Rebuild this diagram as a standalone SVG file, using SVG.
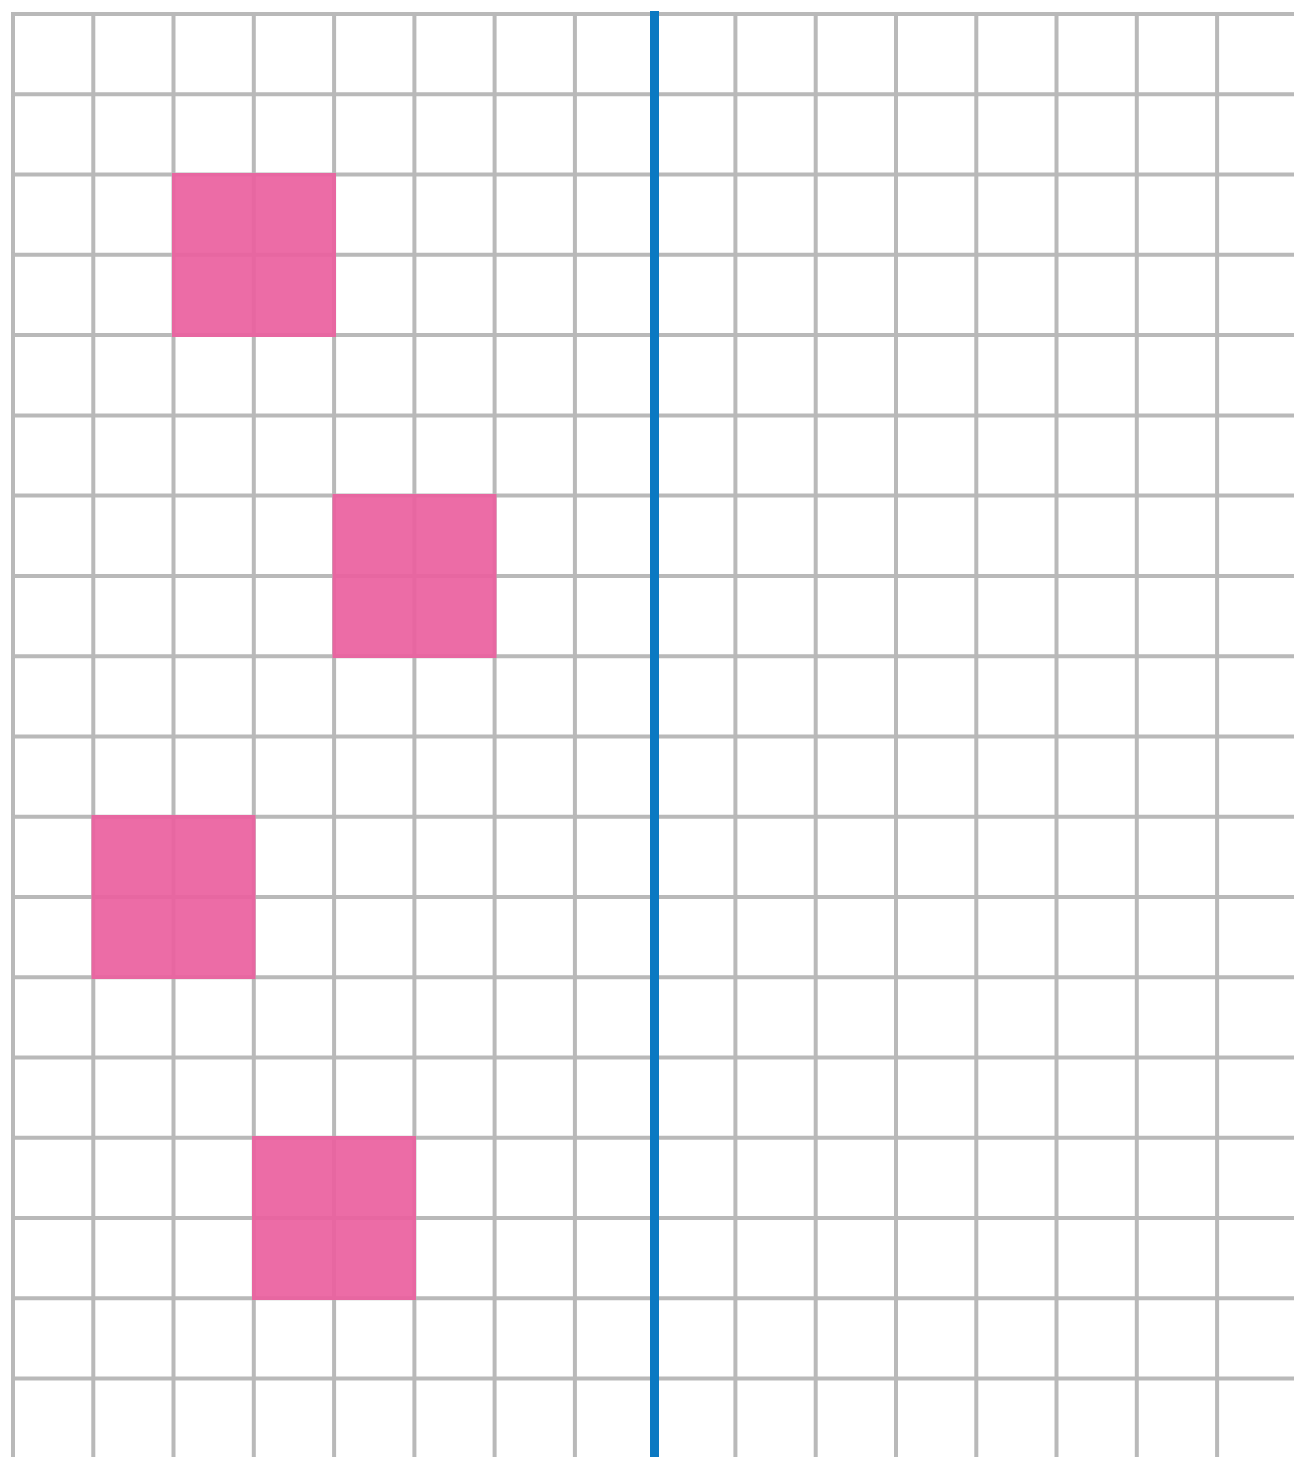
<svg xmlns="http://www.w3.org/2000/svg" width="1294" height="1457" viewBox="0 0 1294 1457">
<style>
.g{stroke:#b9b9b9;stroke-width:4;fill:none}
.p{fill:#ea5f9e;opacity:0.92}
</style>
<rect width="1294" height="1457" fill="#ffffff"/>
<g id="grid" class="g">
<path d="M13,12V1457M93.3,12V1457M173.5,12V1457M253.8,12V1457M334.1,12V1457M414.4,12V1457M494.6,12V1457M574.9,12V1457M735.4,12V1457M815.7,12V1457M896,12V1457M976.3,12V1457M1056.5,12V1457M1136.8,12V1457M1217.1,12V1457"/>
<path d="M11,14H1294M11,94.3H1294M11,174.5H1294M11,254.8H1294M11,335.1H1294M11,415.4H1294M11,495.6H1294M11,575.9H1294M11,656.2H1294M11,736.4H1294M11,816.7H1294M11,897H1294M11,977.2H1294M11,1057.5H1294M11,1137.8H1294M11,1218.1H1294M11,1298.3H1294M11,1378.6H1294"/>
</g>
<g id="squares">
<rect id="sq1" class="p" x="172" y="173" width="164" height="164"/>
<rect id="sq2" class="p" x="332.5" y="494" width="164" height="164"/>
<rect id="sq3" class="p" x="91.5" y="815" width="164" height="164"/>
<rect id="sq4" class="p" x="252" y="1136" width="164" height="164"/>
</g>
<line id="axis" x1="654.5" y1="11" x2="654.5" y2="1457" stroke="#0b79c2" stroke-width="9"/>
</svg>
